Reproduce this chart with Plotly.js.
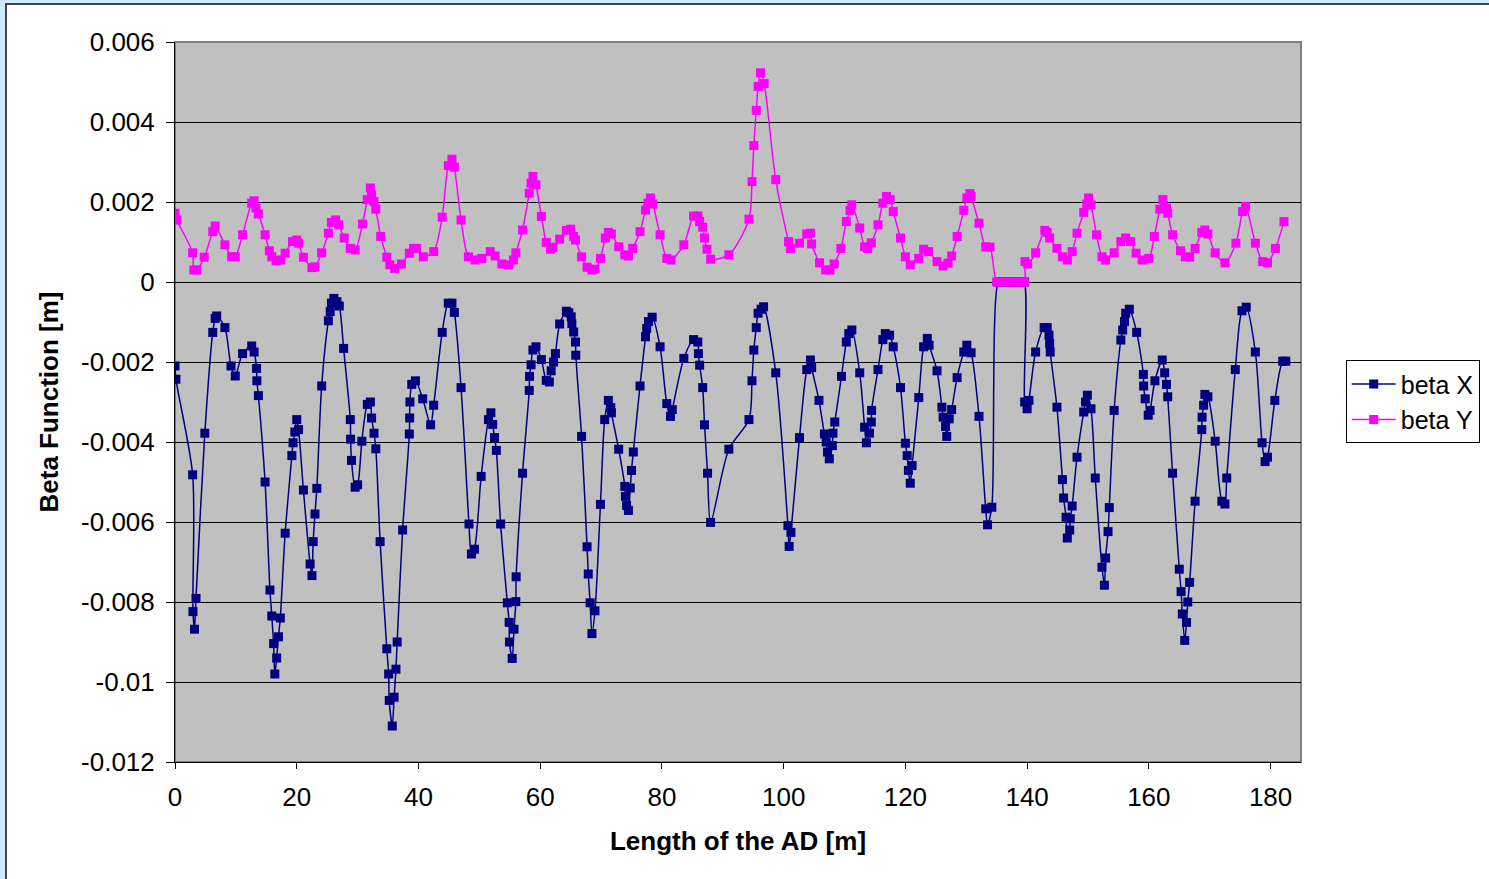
<!DOCTYPE html>
<html>
<head>
<meta charset="utf-8">
<script src="https://cdn.plot.ly/plotly-3.0.1.min.js"></script>
<style>
  html, body { margin: 0; padding: 0; background: #cdeaff; width: 1489px; height: 879px; overflow: hidden; }
  #chart { position: absolute; left: 5px; top: 3px; width: 1484px; height: 876px;
           border-left: 2px solid #444; border-top: 2px solid #444; background: #fff; }
</style>
</head>
<body>
<div id="chart"></div>
<script>
// Beta X
const betaXs = [0,0.15,2.9,2.95,3.2,3.45,4.9,6.2,6.6,6.85,8.2,9.2,9.9,11.1,12.6,13.0,13.4,13.45,13.7,14.8,15.6,15.9,16.2,16.4,16.7,17.0,17.3,18.1,19.2,19.4,19.7,20.0,20.3,21.1,22.2,22.5,22.7,23.0,23.3,24.1,25.2,25.5,25.7,26.1,26.6,27.0,27.7,28.8,28.85,29.0,29.6,30.0,30.7,31.6,32.1,32.3,32.7,33.0,33.7,34.8,35.1,35.2,35.7,36.0,36.3,36.5,37.4,38.5,38.55,38.6,38.9,39.5,40.7,42.0,42.5,43.9,44.9,45.5,45.9,47.0,48.3,48.7,49.2,50.3,51.5,51.9,52.2,52.5,52.8,53.5,54.6,54.9,54.95,55.4,55.7,56.0,56.05,57.1,58.2,58.25,58.5,58.8,59.3,60.2,61.0,61.5,61.8,62.2,62.5,63.2,64.3,64.7,65.1,65.2,65.5,65.8,65.85,66.8,67.7,67.9,68.2,68.5,69.0,69.9,70.6,71.2,71.6,71.7,72.9,73.9,74.0,74.2,74.5,74.8,75.0,75.3,76.4,77.3,77.5,77.8,78.4,79.7,80.8,81.4,81.7,83.6,85.2,85.9,86.0,86.2,86.7,87.0,87.5,88.0,91.0,94.3,94.8,95.1,95.5,95.8,96.3,96.7,98.7,100.7,100.9,101.2,102.6,103.8,104.4,104.6,105.8,106.7,107.0,107.2,107.5,108.0,108.1,108.4,109.5,110.3,110.7,111.2,112.5,113.3,113.6,114.1,114.4,114.45,115.5,116.3,116.7,117.4,118.0,119.2,120.0,120.3,120.5,120.8,121.1,122.2,123.0,123.6,123.9,125.2,126.0,126.2,126.6,126.8,127.2,127.6,128.5,129.6,130.1,130.8,132.1,133.2,133.5,134.2,135.3,136.0,136.7,137.4,138.1,138.8,139.5,139.6,140.0,140.3,141.4,142.8,143.3,143.6,143.7,143.8,144.9,145.8,146.0,146.4,146.6,147.0,147.1,147.4,148.2,149.3,149.6,149.9,150.5,151.2,152.3,152.7,152.9,153.3,153.5,154.3,155.4,155.7,156.0,156.2,156.8,158.0,159.1,159.15,159.4,159.9,160.2,161.0,162.2,162.6,162.9,163.1,163.9,165.0,165.3,165.5,165.9,166.2,166.4,166.7,167.6,168.7,168.75,169.0,169.2,169.7,170.9,172.0,172.5,172.8,174.2,175.3,176.0,177.5,178.6,179.1,179.5,180.7,182.0,182.5];
const betaXv = [-0.0021,-0.00243,-0.00482,-0.00824,-0.00868,-0.00791,-0.00378,-0.00126,-0.00091,-0.00085,-0.00114,-0.0021,-0.00235,-0.00179,-0.0016,-0.00175,-0.00216,-0.00247,-0.00284,-0.005,-0.0077,-0.00835,-0.00904,-0.0098,-0.0094,-0.00887,-0.0084,-0.00628,-0.00434,-0.00402,-0.00375,-0.00344,-0.00369,-0.0052,-0.00705,-0.00734,-0.00649,-0.0058,-0.00516,-0.0026,-0.00097,-0.00074,-0.00053,-0.00041,-0.00049,-0.0006,-0.00166,-0.00344,-0.00393,-0.00446,-0.00513,-0.00507,-0.00398,-0.00306,-0.003,-0.0034,-0.00378,-0.00417,-0.00649,-0.00917,-0.0098,-0.01046,-0.0111,-0.01038,-0.00968,-0.009,-0.0062,-0.0038,-0.0034,-0.003,-0.00256,-0.00247,-0.00292,-0.00357,-0.00308,-0.00126,-0.00053,-0.00053,-0.00076,-0.00264,-0.00605,-0.0068,-0.00668,-0.00486,-0.00344,-0.00327,-0.00356,-0.00389,-0.00421,-0.00605,-0.00802,-0.00851,-0.009,-0.00941,-0.00868,-0.00799,-0.00737,-0.00478,-0.00271,-0.00236,-0.00207,-0.0017,-0.00162,-0.00194,-0.00246,-0.0025,-0.00222,-0.002,-0.00179,-0.00105,-0.00073,-0.00077,-0.00087,-0.00104,-0.00125,-0.0015,-0.00183,-0.00386,-0.00662,-0.0073,-0.00802,-0.00879,-0.00822,-0.00556,-0.00344,-0.00296,-0.00314,-0.00327,-0.00418,-0.00511,-0.00536,-0.00559,-0.00571,-0.00515,-0.00471,-0.00425,-0.0026,-0.00137,-0.00116,-0.00099,-0.00088,-0.00162,-0.00304,-0.00336,-0.00319,-0.00191,-0.00144,-0.0015,-0.00179,-0.00208,-0.00264,-0.00357,-0.00478,-0.00601,-0.00418,-0.00344,-0.00247,-0.0017,-0.00114,-0.00078,-0.00068,-0.00062,-0.00227,-0.00609,-0.00661,-0.00626,-0.00389,-0.00219,-0.00195,-0.00214,-0.00296,-0.0038,-0.004,-0.00425,-0.00442,-0.00409,-0.00378,-0.0035,-0.00236,-0.0015,-0.00129,-0.0012,-0.00227,-0.00363,-0.00402,-0.00378,-0.0035,-0.00321,-0.00219,-0.00144,-0.00129,-0.00133,-0.00162,-0.00264,-0.00403,-0.00434,-0.00471,-0.00503,-0.00459,-0.00289,-0.00162,-0.00141,-0.00158,-0.00222,-0.00313,-0.00338,-0.00361,-0.00386,-0.00342,-0.00319,-0.00239,-0.00175,-0.00158,-0.00177,-0.00336,-0.00567,-0.00607,-0.00563,0,0,0,0,0,0,0,-0.003,-0.00317,-0.00296,-0.00175,-0.00114,-0.00114,-0.00133,-0.00154,-0.00175,-0.00313,-0.00494,-0.0054,-0.00588,-0.0064,-0.0062,-0.00592,-0.0056,-0.00438,-0.00325,-0.003,-0.00283,-0.00317,-0.0049,-0.00713,-0.00758,-0.0069,-0.00624,-0.00564,-0.00321,-0.00145,-0.0012,-0.00099,-0.00078,-0.00068,-0.00126,-0.00231,-0.0026,-0.00292,-0.00333,-0.00321,-0.00247,-0.00195,-0.00227,-0.00256,-0.00287,-0.00478,-0.00718,-0.00774,-0.0083,-0.00896,-0.00851,-0.008,-0.00751,-0.00548,-0.00369,-0.00338,-0.00308,-0.00281,-0.00287,-0.00398,-0.00548,-0.00555,-0.0049,-0.00219,-0.00072,-0.00063,-0.00175,-0.00402,-0.00449,-0.00438,-0.00296,-0.00198,-0.00198];

// Beta Y
const betaYs = [0,0.3,2.9,3.1,3.6,4.8,6.2,6.6,8.2,9.3,9.9,11.1,12.6,13.0,13.3,13.7,14.8,15.5,15.9,16.6,17.4,18.1,19.3,20.0,20.3,21.1,22.5,23.0,24.1,25.2,25.7,26.4,26.9,27.8,28.8,29.6,30.8,31.6,32.1,32.3,32.7,33.0,33.8,34.8,35.3,36.1,37.2,38.5,39.2,39.7,40.8,42.5,43.9,44.9,45.5,45.9,47.0,48.2,49.3,50.4,51.8,52.6,53.7,54.8,55.6,56.0,57.1,58.2,58.5,58.8,59.3,60.2,61.0,61.7,62.1,63.2,64.3,65.0,65.5,65.8,66.8,67.7,68.5,69.0,69.9,70.7,71.2,71.7,72.9,73.9,74.5,75.2,76.4,77.3,77.7,78.1,78.5,79.7,80.8,81.5,83.6,85.2,85.9,86.2,86.7,87.0,87.4,88.0,91.0,94.3,94.8,95.1,95.5,95.8,96.2,96.8,98.7,100.8,101.1,102.6,103.8,104.4,104.6,105.9,106.9,107.6,108.3,109.4,110.3,110.9,111.2,112.5,113.3,113.8,114.4,115.5,116.3,116.9,117.5,118.0,119.2,120.0,120.8,122.2,123.0,123.8,125.2,126.2,127.0,127.6,128.5,129.6,130.1,130.6,130.8,132.1,133.2,133.9,135.0,135.8,136.6,137.3,138.1,138.9,139.6,139.65,140.1,141.4,142.9,143.3,143.7,144.9,145.8,146.6,147.4,148.2,149.3,149.8,150.1,150.5,151.4,152.3,152.9,154.3,155.4,156.2,157.0,157.9,158.9,160.0,160.9,161.8,162.3,162.9,163.1,163.9,165.2,166.0,166.7,167.6,168.7,169.2,169.7,170.9,172.5,174.3,175.4,175.9,177.5,178.7,179.5,180.8,182.2];
const betaYv = [0.00172,0.00155,0.00073,0.0003,0.0003,0.00062,0.00126,0.0014,0.00093,0.00063,0.00063,0.00118,0.00197,0.00203,0.00185,0.0017,0.00118,0.00078,0.00063,0.00053,0.00055,0.00072,0.00101,0.00105,0.00097,0.00062,0.00036,0.00038,0.00073,0.00122,0.00149,0.00155,0.00143,0.0011,0.00084,0.0008,0.00145,0.00206,0.00235,0.00218,0.00201,0.00182,0.00114,0.00062,0.00043,0.00034,0.00045,0.00072,0.00084,0.00084,0.00063,0.00076,0.00162,0.00291,0.00307,0.00287,0.00155,0.00063,0.00055,0.00059,0.00076,0.00065,0.00045,0.00043,0.00055,0.00073,0.0013,0.00222,0.00247,0.00264,0.00243,0.00164,0.00099,0.00082,0.00087,0.00107,0.00129,0.00132,0.00114,0.00105,0.00063,0.00037,0.0003,0.00032,0.00059,0.0011,0.00124,0.0012,0.00088,0.00068,0.00065,0.00084,0.00126,0.0018,0.00197,0.0021,0.00195,0.00118,0.00059,0.00055,0.00093,0.00165,0.00165,0.00151,0.00137,0.0011,0.00082,0.00057,0.00068,0.00157,0.00251,0.00341,0.00429,0.00489,0.00523,0.00496,0.00256,0.00101,0.00084,0.00097,0.0012,0.00122,0.00095,0.00048,0.0003,0.0003,0.00045,0.00084,0.00151,0.00179,0.00193,0.00135,0.00088,0.00084,0.00098,0.00143,0.00197,0.00214,0.00206,0.00176,0.0011,0.00063,0.00043,0.00059,0.00082,0.00076,0.00051,0.0004,0.00047,0.00065,0.00114,0.00179,0.0021,0.00221,0.00214,0.00147,0.00088,0.00087,0,0,0,0,0,0,0,0.00051,0.00045,0.00073,0.00129,0.00124,0.0011,0.00084,0.00063,0.00055,0.00076,0.00122,0.00174,0.00195,0.0021,0.00193,0.00118,0.00063,0.00055,0.00073,0.00101,0.0011,0.00101,0.00072,0.00055,0.00059,0.00114,0.00182,0.00206,0.00185,0.00172,0.00118,0.00078,0.00063,0.00062,0.00084,0.00124,0.0013,0.0012,0.00073,0.00048,0.00097,0.00176,0.00189,0.00097,0.00051,0.00048,0.00084,0.00151];

const seriesNames = ['beta X', 'beta Y'];
const xTitle = 'Length of the AD [m]';
const yTitle = 'Beta Function [m]';
const yTickVals = [0.006, 0.004, 0.002, 0, -0.002, -0.004, -0.006, -0.008, -0.01, -0.012];
const yTickText = ['0.006', '0.004', '0.002', '0', '-0.002', '-0.004', '-0.006', '-0.008', '-0.01', '-0.012'];
const xTickVals = [0, 20, 40, 60, 80, 100, 120, 140, 160, 180];
const xTickText = ['0', '20', '40', '60', '80', '100', '120', '140', '160', '180'];

const FONT = '"Liberation Sans", Arial, sans-serif';

const traces = [
  { x: betaXs, y: betaXv, name: seriesNames[0], type: 'scatter', mode: 'lines+markers',
    line: { color: '#000080', width: 1.5, shape: 'spline', smoothing: 0.8 },
    marker: { symbol: 'square', size: 9, color: '#000080' } },
  { x: betaYs, y: betaYv, name: seriesNames[1], type: 'scatter', mode: 'lines+markers',
    line: { color: '#ff00ff', width: 1.5, shape: 'spline', smoothing: 0.8 },
    marker: { symbol: 'square', size: 9, color: '#ff00ff' } }
];

const layout = {
  width: 1484, height: 876,
  margin: { l: 168, r: 189, t: 37, b: 119 },
  paper_bgcolor: '#ffffff',
  plot_bgcolor: '#c0c0c0',
  font: { family: FONT, size: 26, color: '#000' },
  showlegend: true,
  legend: {
    x: 1.0388, y: 0.558, xanchor: 'left', yanchor: 'top',
    bgcolor: '#ffffff', bordercolor: '#000', borderwidth: 1,
    font: { family: FONT, size: 25, color: '#000' },
    itemwidth: 44,
    tracegroupgap: 0
  },
  xaxis: {
    range: [0, 185], tickmode: 'array', tickvals: xTickVals, ticktext: xTickText,
    showgrid: false, zeroline: false,
    showline: true, linecolor: '#000', linewidth: 1,
    ticks: 'outside', ticklen: 6, tickcolor: '#000',
    ticklabelstandoff: 6,
    tickfont: { family: FONT, size: 26 },
    title: { text: '<b>' + xTitle + '</b>', font: { family: FONT, size: 26 }, standoff: 20 }
  },
  yaxis: {
    range: [-0.012, 0.006], tickmode: 'array', tickvals: yTickVals, ticktext: yTickText,
    showgrid: true, gridcolor: '#000', gridwidth: 1,
    zeroline: false, showline: true, linecolor: '#000', linewidth: 1,
    ticks: 'outside', ticklen: 8, tickcolor: '#000',
    ticklabelstandoff: 6,
    tickfont: { family: FONT, size: 26 },
    title: { text: '<b>' + yTitle + '</b>', font: { family: FONT, size: 26 }, standoff: 14 }
  },
  shapes: [
    { type: 'rect', xref: 'paper', yref: 'paper', x0: 0, x1: 1, y0: 0, y1: 1,
      line: { color: '#808080', width: 2 }, layer: 'below' }
  ]
};

Plotly.newPlot('chart', traces, layout, { staticPlot: true, displayModeBar: false });
</script>
</body>
</html>
